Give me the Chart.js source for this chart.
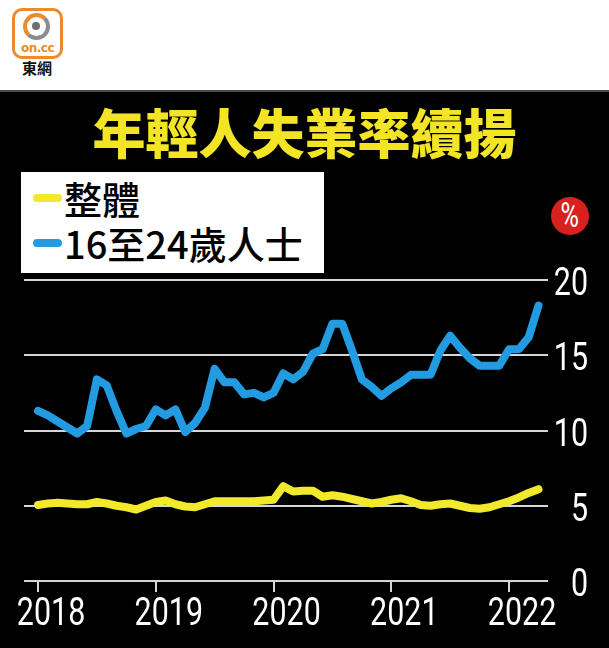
<!DOCTYPE html>
<html>
<head>
<meta charset="utf-8">
<script src="https://cdn.jsdelivr.net/npm/chart.js@4.4.0/dist/chart.umd.min.js"></script>
<style>
    html, body { margin: 0; padding: 0; background: #fff; }
    #page { position: relative; width: 609px; height: 648px; overflow: hidden; background: #fff; }
    #logo { position: absolute; left: 12px; top: 8px; width: 51px; height: 51px; border: 3px solid #ec8b2e; border-radius: 10px; box-sizing: border-box; background: #fff; }
    #logo .ring { position: absolute; left: 8px; top: 2px; width: 27px; height: 27px; border-radius: 50%; border: 4px solid #ec8b2e; border-right-color: #8c8c8c; border-bottom-color: #8c8c8c; box-sizing: border-box; }
    #logo .dot { position: absolute; left: 17px; top: 11px; width: 8px; height: 8px; border-radius: 50%; background: #6e6e6e; }
    #logo .cc { position: absolute; left: 0; top: 30px; width: 45px; text-align: center; font: bold 12px 'DejaVu Sans', sans-serif; color: #ec8b2e; letter-spacing: -0.5px; }
    #brand { position: absolute; left: 22px; top: 59px; font: bold 15px 'Noto Sans CJK TC', sans-serif; color: #111; line-height: 18px; }
    #panel { position: absolute; left: 0; top: 90px; width: 609px; height: 558px; background: #000; border-top: 2px solid #4a4a4a; box-sizing: border-box; }
    #title { position: absolute; left: 0; top: 103px; width: 609px; text-align: center; font: 900 53px 'Noto Sans CJK TC', sans-serif; line-height: 56px; color: #f3e526; letter-spacing: 0px; }
    #legend { position: absolute; left: 21px; top: 172px; width: 303px; height: 101px; background: #fff; }
    .key { position: absolute; left: 12px; width: 29px; height: 8px; border-radius: 4px; }
    .txt { position: absolute; left: 43px; font: 500 38px 'Noto Sans CJK TC', sans-serif; line-height: 40px; color: #000; white-space: nowrap; }
    #pct { position: absolute; left: 551px; top: 197px; width: 38px; height: 38px; border-radius: 50%; background: #d7211f; color: #fff; text-align: center; font: 35px Roboto, sans-serif; line-height: 38px; }
    #pct span { display: inline-block; transform: scaleX(0.72); }
    #myChart { position: absolute; left: 0; top: 0; }
</style>
</head>
<body>
<div id="page">
    <div id="logo"><div class="ring"></div><div class="dot"></div><div class="cc">on.cc</div></div>
    <div id="brand">東網</div>
    <div id="panel"></div>
    <div id="title">年輕人失業率續揚</div>
    <div id="legend">
        <div class="key" style="top:22px;background:#f3e92c"></div>
        <div class="txt" style="top:6px">整體</div>
        <div class="key" style="top:67px;background:#229be0"></div>
        <div class="txt" style="top:51px">16至24歲人士</div>
    </div>
    <div id="pct"><span>%</span></div>
    <canvas id="myChart" width="609" height="648"></canvas>
</div>
<script>
// monthly values, Jan 2018 .. Apr 2022
const overall = [
    5.05, 5.15, 5.2, 5.15, 5.1, 5.1, 5.25, 5.15, 5.0, 4.9, 4.75, 5.0,
    5.25, 5.35, 5.1, 4.95, 4.9, 5.1, 5.3, 5.3, 5.3, 5.3, 5.3, 5.35,
    5.4, 6.3, 5.95, 6.0, 6.0, 5.6, 5.7, 5.6, 5.45, 5.3, 5.15, 5.25,
    5.4, 5.5, 5.3, 5.05, 5.0, 5.1, 5.15, 5.0, 4.85, 4.8, 4.9, 5.1,
    5.3, 5.55, 5.85, 6.1
];
const youth = [
    11.3, 11.0, 10.6, 10.2, 9.8, 10.3, 13.4, 13.0, 11.3, 9.8, 10.1, 10.3,
    11.4, 11.0, 11.4, 9.9, 10.5, 11.5, 14.1, 13.2, 13.2, 12.4, 12.5, 12.2,
    12.5, 13.8, 13.4, 13.9, 15.1, 15.4, 17.1, 17.1, 15.3, 13.4, 12.9, 12.3,
    12.8, 13.2, 13.7, 13.7, 13.7, 15.3, 16.3, 15.5, 14.8, 14.3, 14.3, 14.3,
    15.4, 15.4, 16.2, 18.3
];
const yearTicks = [0, 12, 24, 36, 48];
const yearLabels = ['2018', '2019', '2020', '2021', '2022'];

const gridColor = '#d6d6d6';

function toPoints(values) {
    return values.map((v, i) => ({ x: i, y: v }));
}

// the tick labels are a narrow face; none is installed, so squeeze a normal one
function drawNarrow(c, text, x, y, align) {
    c.save();
    c.translate(x, y);
    c.scale(0.78, 1);
    c.textAlign = align;
    c.fillText(text, 0, 0);
    c.restore();
}

const narrowLabels = {
    id: 'narrowLabels',
    afterDraw(chart) {
        const c = chart.ctx;
        const xs = chart.scales.x;
        const ys = chart.scales.y;
        c.save();
        c.fillStyle = '#fff';
        c.font = '39px Roboto, sans-serif';
        c.textBaseline = 'alphabetic';
        xs.ticks.forEach((t, i) => {
            drawNarrow(c, yearLabels[i], xs.getPixelForValue(t.value) + 13, 625, 'center');
        });
        ys.ticks.forEach(t => {
            drawNarrow(c, String(t.value), 588, ys.getPixelForValue(t.value) + 15, 'right');
        });
        c.restore();
    }
};

const ctx = document.getElementById('myChart').getContext('2d');
const myChart = new Chart(ctx, {
    type: 'line',
    data: {
        datasets: [
            {
                label: '整體',
                data: toPoints(overall),
                borderColor: '#f3e92c',
                borderWidth: 8,
                pointRadius: 0,
                tension: 0,
                borderJoinStyle: 'round',
                borderCapStyle: 'round'
            },
            {
                label: '16至24歲人士',
                data: toPoints(youth),
                borderColor: '#229be0',
                borderWidth: 8,
                pointRadius: 0,
                tension: 0,
                borderJoinStyle: 'round',
                borderCapStyle: 'round'
            }
        ]
    },
    options: {
        responsive: false,
        animation: false,
        devicePixelRatio: 1,
        layout: { padding: { top: 280, left: 24, right: 0, bottom: 0 } },
        plugins: { legend: { display: false }, tooltip: { enabled: false } },
        scales: {
            x: {
                type: 'linear',
                min: -1.43,
                max: 51.97,
                afterBuildTicks: axis => { axis.ticks = yearTicks.map(v => ({ value: v })); },
                afterFit: axis => { axis.height = 67; },
                grid: { drawOnChartArea: false, drawTicks: true, tickLength: 11, color: gridColor, lineWidth: 2 },
                border: { display: false },
                ticks: { display: false, autoSkip: false, maxRotation: 0 }
            },
            y: {
                position: 'right',
                min: 0,
                max: 20,
                afterFit: axis => { axis.width = 61; },
                grid: { color: gridColor, lineWidth: 2, drawTicks: false },
                border: { display: false },
                ticks: { display: false, stepSize: 5 }
            }
        }
    },
    plugins: [narrowLabels]
});
</script>
</body>
</html>
